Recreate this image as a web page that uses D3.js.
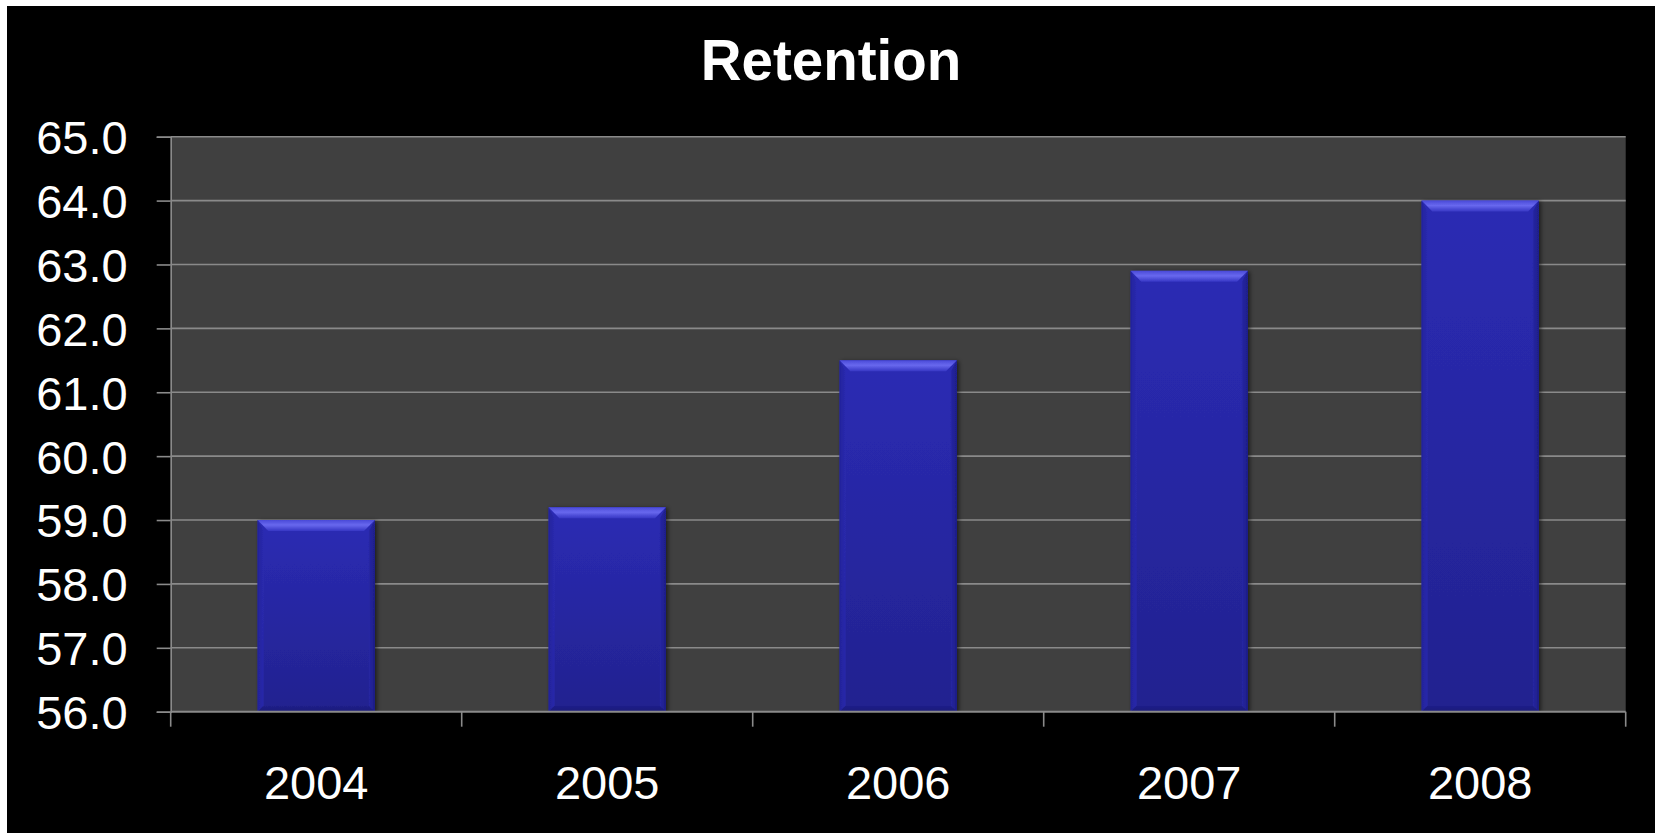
<!DOCTYPE html>
<html>
<head>
<meta charset="utf-8">
<script src="https://cdn.jsdelivr.net/npm/d3@7"></script>
<style>
html,body{margin:0;padding:0;background:#fff;}
svg{display:block;}
text{font-family:Arial,"Liberation Sans",sans-serif;fill:#fff;}
</style>
</head>
<body>
<svg id="chart" width="1657" height="833"></svg>
<script>
const title = "Retention";
const categories = ["2004","2005","2006","2007","2008"];
const values = [59.0, 59.2, 61.5, 62.9, 64.0];
const yTicks = [56,57,58,59,60,61,62,63,64,65];

const W = 1657, H = 833;
const plot = {left:170.7, right:1625.7, top:136.7, bottom:711.7};

const svg = d3.select("#chart");
const defs = svg.append("defs");

// gradients
const gMain = defs.append("linearGradient").attr("id","gMain").attr("x1",0).attr("y1",0).attr("x2",0).attr("y2",1);
gMain.append("stop").attr("offset","0%").attr("stop-color","#2b2bb4");
gMain.append("stop").attr("offset","100%").attr("stop-color","#22228f");
const gTop = defs.append("linearGradient").attr("id","gTop").attr("x1",0).attr("y1",0).attr("x2",0).attr("y2",1);
gTop.append("stop").attr("offset","0%").attr("stop-color","#4a4ad8");
gTop.append("stop").attr("offset","45%").attr("stop-color","#6868ee");
gTop.append("stop").attr("offset","100%").attr("stop-color","#3636c4");
const gLeft = defs.append("linearGradient").attr("id","gLeft").attr("x1",0).attr("y1",0).attr("x2",1).attr("y2",0);
gLeft.append("stop").attr("offset","0%").attr("stop-color","#22229a");
gLeft.append("stop").attr("offset","100%").attr("stop-color","#2a2aae");
const gRight = defs.append("linearGradient").attr("id","gRight").attr("x1",0).attr("y1",0).attr("x2",1).attr("y2",0);
gRight.append("stop").attr("offset","0%").attr("stop-color","#2626a4");
gRight.append("stop").attr("offset","100%").attr("stop-color","#1c1c84");
const gBot = defs.append("linearGradient").attr("id","gBot").attr("x1",0).attr("y1",0).attr("x2",0).attr("y2",1);
gBot.append("stop").attr("offset","0%").attr("stop-color","#20208a");
gBot.append("stop").attr("offset","100%").attr("stop-color","#1a1a78");

const shadow = defs.append("filter").attr("id","shadow").attr("x","-10%").attr("y","-10%").attr("width","130%").attr("height","130%");
shadow.append("feDropShadow").attr("dx",2).attr("dy",1).attr("stdDeviation",2).attr("flood-color","#000").attr("flood-opacity",0.55);

// background
svg.append("rect").attr("x",7).attr("y",6).attr("width",1648).attr("height",827).attr("fill","#000");

// scales
const x = d3.scaleBand().domain(categories).range([plot.left, plot.right]).padding(0);
const y = d3.scaleLinear().domain([56,65]).range([plot.bottom, plot.top]);

// plot area
svg.append("rect").attr("x",plot.left).attr("y",plot.top)
  .attr("width",plot.right-plot.left).attr("height",plot.bottom-plot.top).attr("fill","#404040");

// gridlines
svg.append("g").selectAll("line").data(yTicks.filter(t=>t>56)).join("line")
  .attr("x1",plot.left).attr("x2",plot.right)
  .attr("y1",d=>y(d)).attr("y2",d=>y(d))
  .attr("stroke","#8a8a8a").attr("stroke-width",1.6);

// bars
const barFrac = 0.403;
const bars = svg.append("g").selectAll("g").data(categories.map((c,i)=>({c, v:values[i]}))).join("g")
  .attr("filter","url(#shadow)");
bars.each(function(d){
  const g = d3.select(this);
  const bw = x.bandwidth()*barFrac;
  const x0 = x(d.c) + (x.bandwidth()-bw)/2;
  const x1 = x0 + bw;
  const y0 = y(d.v), y1 = y(56);
  const b = 11, s = 6;
  g.append("rect").attr("x",x0).attr("y",y0).attr("width",bw).attr("height",y1-y0).attr("fill","url(#gMain)");
  g.append("polygon").attr("points",[[x0,y0],[x0+s,y0+b],[x0+s,y1-s],[x0,y1]].join(" ")).attr("fill","url(#gLeft)").attr("opacity",0.9);
  g.append("polygon").attr("points",[[x1,y0],[x1-s,y0+b],[x1-s,y1-s],[x1,y1]].join(" ")).attr("fill","url(#gRight)").attr("opacity",0.9);
  g.append("polygon").attr("points",[[x0,y1],[x0+s,y1-s],[x1-s,y1-s],[x1,y1]].join(" ")).attr("fill","url(#gBot)");
  g.append("polygon").attr("points",[[x0,y0],[x1,y0],[x1-s*1.8,y0+b],[x0+s*1.8,y0+b]].join(" ")).attr("fill","url(#gTop)");
});

// axes
const axisColor = "#8a8a8a";
const yAxis = svg.append("g").attr("transform",`translate(${plot.left},0)`)
  .call(d3.axisLeft(y).tickValues(yTicks).tickFormat(d3.format(".1f")).tickSize(14).tickPadding(29));
yAxis.select(".domain").attr("stroke",axisColor).attr("stroke-width",1.6);
yAxis.selectAll(".tick line").attr("stroke",axisColor).attr("stroke-width",1.6);
yAxis.selectAll(".tick text").attr("fill","#fff").attr("font-size",47)
  .attr("font-family","Arial, 'Liberation Sans', sans-serif").attr("dy","0.36em");

const xAxis = svg.append("g").attr("transform",`translate(0,${plot.bottom})`)
  .call(d3.axisBottom(x).tickSize(0).tickPadding(0));
xAxis.select(".domain").remove();
xAxis.append("line").attr("x1",plot.left).attr("x2",plot.right).attr("y1",0).attr("y2",0)
  .attr("stroke",axisColor).attr("stroke-width",2);
xAxis.append("g").selectAll("line").data(d3.range(categories.length+1)).join("line")
  .attr("x1",i=>plot.left + i*x.step()).attr("x2",i=>plot.left + i*x.step())
  .attr("y1",0).attr("y2",15).attr("stroke",axisColor).attr("stroke-width",1.6);
xAxis.selectAll(".tick text").attr("fill","#fff").attr("font-size",47)
  .attr("font-family","Arial, 'Liberation Sans', sans-serif").attr("dy",0).attr("y",87);

// title
svg.append("text").attr("x",831).attr("y",80).attr("text-anchor","middle")
  .attr("font-size",56.5).attr("font-weight","bold").text(title);
</script>
</body>
</html>
